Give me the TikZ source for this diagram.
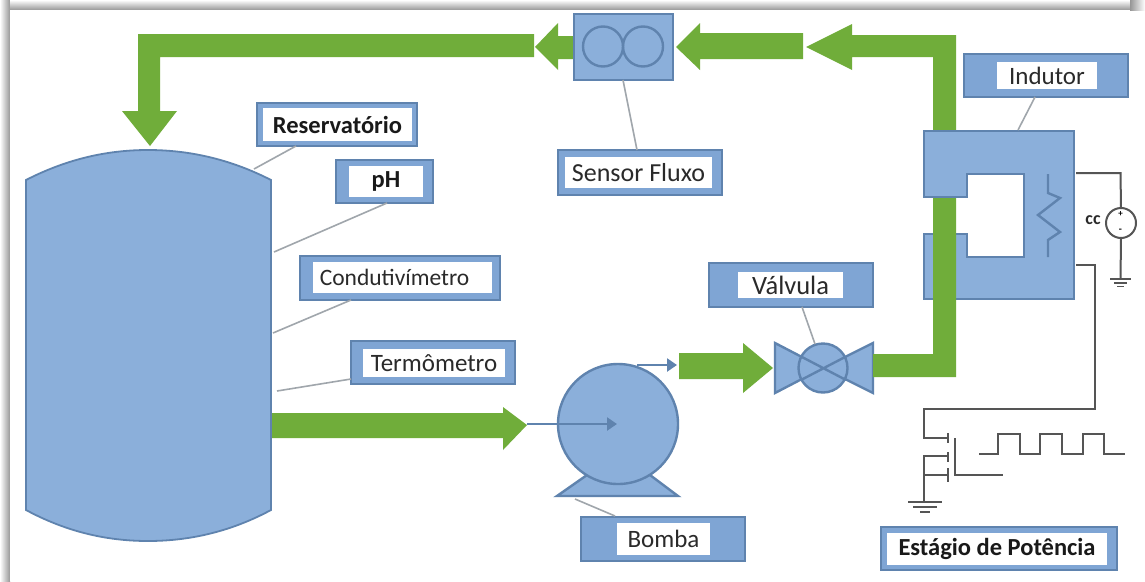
\documentclass[tikz,border=0pt]{standalone}
\usepackage{fontspec}
\setmainfont{Carlito}
\usetikzlibrary{arrows.meta}
\definecolor{flow}{HTML}{70AD3A}
\definecolor{bluefill}{HTML}{8BAFDA}
\definecolor{blueedge}{HTML}{5F83AE}
\definecolor{labelfill}{HTML}{7FA5D4}
\definecolor{leadercol}{HTML}{A0A6AC}
\definecolor{wirecol}{HTML}{555555}
\definecolor{shadowcol}{HTML}{969696}
\definecolor{txt}{HTML}{2A2A2A}
\tikzset{
  flowshape/.style={fill=flow,draw=none},
  part/.style={fill=bluefill,draw=blueedge,line width=2.4pt,line join=miter},
  stroke/.style={draw=blueedge,line width=2.4pt},
  labelouter/.style={draw=blueedge,fill=labelfill,line width=2.6pt,inner sep=0pt,outer sep=0pt},
  labelinner/.style={fill=white,draw=none,inner sep=0pt,outer sep=0pt,text=txt,font=\fontsize{25}{28}\selectfont},
  labelbold/.style={labelinner,font=\fontsize{24.5}{28}\selectfont\bfseries,text=black!90},
  leader/.style={draw=leadercol,line width=1.6pt},
  wire/.style={draw=wirecol,line width=2pt},
  gnd/.style={draw=wirecol,line width=1.8pt},
  tiparrow/.style={stroke,-{Triangle[length=10pt,width=13pt]}}
}
\begin{document}
\begin{tikzpicture}[x=1pt,y=-1pt]
\useasboundingbox (0,0) rectangle (1145,581);
% page and shadow
\fill[white] (0,0) rectangle (1145,581);
\shade[left color=white,right color=shadowcol] (0,0) rectangle (10,581);
\shade[top color=white,bottom color=shadowcol] (10,0) rectangle (1130,10);
\fill[white] (10,10) rectangle (1145,581);
\shade[left color=shadowcol,right color=white] (1130,0) rectangle (1145,10);

% green pipes under the core
\fill[flowshape] (956,131) -- (956,35) -- (852,35) -- (852,24) -- (806,47) -- (852,70) -- (852,57) -- (933,57) -- (933,131) -- cycle;
\fill[flowshape] (803,33) -- (700,33) -- (700,23) -- (676,47) -- (700,70) -- (700,59) -- (803,59) -- cycle;
\fill[flowshape] (574,36) -- (558,36) -- (558,23) -- (535,47) -- (558,70) -- (558,59) -- (574,59) -- cycle;
\fill[flowshape] (534,34) -- (138,34) -- (138,111) -- (122,111) -- (150,146) -- (177,111) -- (160,111) -- (160,57) -- (534,57) -- cycle;

% reservoir
\path[part,line width=1.8pt] (26,180) .. controls (65,160) and (105,150) .. (148,150) .. controls (191,150) and (232,160) .. (271,180)
  -- (271,510) .. controls (232,531) and (191,541) .. (148,541) .. controls (105,541) and (65,531) .. (26,510) -- cycle;

% flow to pump
\fill[flowshape] (272,413) -- (503,413) -- (503,407) -- (527,425) -- (503,450) -- (503,438) -- (272,438) -- cycle;

% pump
\path[part] (557,496) -- (587,475) -- (650,475) -- (678,496) -- cycle;
\node[circle,part,minimum size=120pt,inner sep=0pt,outer sep=0pt] (pump) at (618,424) {};
\coordinate (pumpIn) at (527,424);
\coordinate (pumpHub) at (617,424);
\coordinate (pumpOutA) at (637,365);
\coordinate (pumpOutB) at (677,365);
\draw[tiparrow] (pumpIn) -- (pumpHub);
\draw[tiparrow] (pumpOutA) -- (pumpOutB);

% flow to valve
\fill[flowshape] (679,353) -- (743,353) -- (743,343) -- (773,368) -- (743,393) -- (743,379) -- (679,379) -- cycle;

% valve
\path[part] (775,343) -- (823,368) -- (873,343) -- (873,393) -- (823,368) -- (775,393) -- cycle;
\node[circle,part,minimum size=49pt,inner sep=0pt,outer sep=0pt] (valve) at (823,368) {};
\draw[stroke] (801,356.5) -- (846,380) (801,380) -- (846,356.5);

% sensor
\node[part,minimum width=99pt,minimum height=66pt,inner sep=0pt,outer sep=0pt] (sensor) at (623.5,47) {};
\node[circle,stroke,minimum size=40pt,inner sep=0pt,outer sep=0pt] (rotorA) at (603,46.5) {};
\node[circle,stroke,minimum size=40pt,inner sep=0pt,outer sep=0pt] (rotorB) at (643,46.5) {};

% inductor core
\path[part] (924,131) -- (1074,131) -- (1074,299) -- (924,299) -- (924,234) -- (967,234) -- (967,257) -- (1024,257) -- (1024,174) -- (967,174) -- (967,197) -- (924,197) -- cycle;
\fill[flowshape] (933,198) -- (956,198) -- (956,377) -- (873,377) -- (873,354) -- (933,354) -- cycle;

% coil
\draw[stroke,line join=miter] (1048,174) -- (1048,193) -- (1060,198) -- (1038,215) -- (1060,232) -- (1048,240) -- (1048,257);

% source
\coordinate (coreTop) at (1076,173);
\coordinate (coreBot) at (1076,265);
\node[circle,draw=wirecol,line width=2pt,fill=white,minimum size=30pt,inner sep=0pt,outer sep=0pt] (src) at (1121,223) {};
\coordinate (srcC) at (1120.5,173);
\coordinate (gndA) at (1120.5,279);
\draw[wire] (coreTop) -- (srcC) -- (src.north);
\draw[wire] (src.south) -- (gndA);
\node[font=\fontsize{9}{9}\selectfont\bfseries,text=black,inner sep=0pt] (plus) at (1120.5,214) {+};
\node[font=\fontsize{10}{10}\selectfont\bfseries,text=black,inner sep=0pt] (minus) at (1120.5,231) {-};
\node[font=\fontsize{18}{18}\selectfont\bfseries,text=txt,inner sep=0pt] (cc) at (1093,220.5) {cc};
\draw[gnd] (1110,279) -- (1131,279) (1114,283) -- (1127,283) (1117,286.5) -- (1124,286.5);

% power stage
\coordinate (wA) at (1095,265);
\coordinate (wB) at (1095,409);
\coordinate (wC) at (924,409);
\coordinate (wD) at (924,438);
\coordinate (wE) at (947,438);
\coordinate (wF) at (924,456);
\coordinate (wG) at (947,456);
\coordinate (wH) at (924,475);
\coordinate (wI) at (947,475);
\coordinate (wJ) at (924,502);
\draw[wire] (coreBot) -- (wA) -- (wB) -- (wC) -- (wD) -- (wE);
\draw[wire] (wG) -- (wF) -- (wJ);
\draw[wire] (wH) -- (wI);
\draw[wire] (948,433) -- (948,443) (948,452) -- (948,462) (948,468) -- (948,482);
\draw[wire] (955,438) -- (955,475) -- (1003,475);
\draw[gnd] (908,502) -- (942,502) (913,507) -- (937,507) (920,512) -- (930,512);
\draw[wire,line join=miter] (979,454) -- (998,454) -- (998,434) -- (1020,434) -- (1020,454) -- (1040,454) -- (1040,434) -- (1062,434) -- (1062,454) -- (1083,454) -- (1083,434) -- (1104,434) -- (1104,454) -- (1125,454);

% labels
\node[labelouter,minimum width=160pt,minimum height=43pt] (resO) at (337,124.5) {};
\node[labelbold,minimum width=149pt,minimum height=33pt] (resI) at (337.5,124.5) {Reservatório};
\node[labelouter,minimum width=97pt,minimum height=43pt] (phO) at (384.5,181.5) {};
\node[labelbold,minimum width=73.5pt,minimum height=31pt] (phI) at (386,181.5) {pH};
\node[labelouter,minimum width=200pt,minimum height=44pt] (conO) at (400,278) {};
\node[labelinner,font=\fontsize{23.5}{28}\selectfont,minimum width=179pt,minimum height=31pt] (conI) at (402.5,277.5) {Condutivímetro\kern16pt};
\node[labelouter,minimum width=164pt,minimum height=43pt] (terO) at (433,362.5) {};
\node[labelinner,minimum width=142pt,minimum height=28pt] (terI) at (434,363) {Termômetro};
\node[labelouter,minimum width=164pt,minimum height=44pt] (bomO) at (663,539) {};
\node[labelinner,minimum width=93pt,minimum height=32pt] (bomI) at (663.5,539) {Bomba};
\node[labelouter,minimum width=164pt,minimum height=44pt] (valO) at (791,285) {};
\node[labelinner,font=\fontsize{26.5}{28}\selectfont,minimum width=105pt,minimum height=26pt] (valI) at (790.5,285) {Válvula};
\node[labelouter,minimum width=164pt,minimum height=45pt] (senO) at (640,172.5) {};
\node[labelinner,font=\fontsize{26}{28}\selectfont,minimum width=147pt,minimum height=31pt] (senI) at (638.5,172.5) {Sensor Fluxo};
\node[labelouter,minimum width=164pt,minimum height=43pt] (indO) at (1046,75.5) {};
\node[labelinner,minimum width=100pt,minimum height=27pt] (indI) at (1047,75.5) {Indutor};
\node[labelouter,minimum width=236pt,minimum height=43pt] (estO) at (999,548.5) {};
\node[labelbold,minimum width=220pt,minimum height=32pt] (estI) at (997,549) {Estágio de Potência};

% leaders
\coordinate (tankA) at (254,169);
\coordinate (tankB) at (274,252);
\coordinate (tankC) at (273,333);
\coordinate (tankD) at (277,391);
\coordinate (resL) at (296,146);
\coordinate (phL) at (387,203);
\coordinate (conL) at (351,300);
\coordinate (terL) at (351,379);
\coordinate (baseL) at (575,499);
\coordinate (bomL) at (615,516);
\coordinate (valL) at (802,307);
\coordinate (valT) at (815,344);
\coordinate (senL) at (637,150);
\coordinate (senB) at (623,80);
\coordinate (indL) at (1035,97);
\coordinate (coreL) at (1018,130);
\draw[leader] (resL) -- (tankA);
\draw[leader] (phL) -- (tankB);
\draw[leader] (conL) -- (tankC);
\draw[leader] (terL) -- (tankD);
\draw[leader] (baseL) -- (bomL);
\draw[leader] (valL) -- (valT);
\draw[leader] (senB) -- (senL);
\draw[leader] (indL) -- (coreL);
\end{tikzpicture}
\end{document}
